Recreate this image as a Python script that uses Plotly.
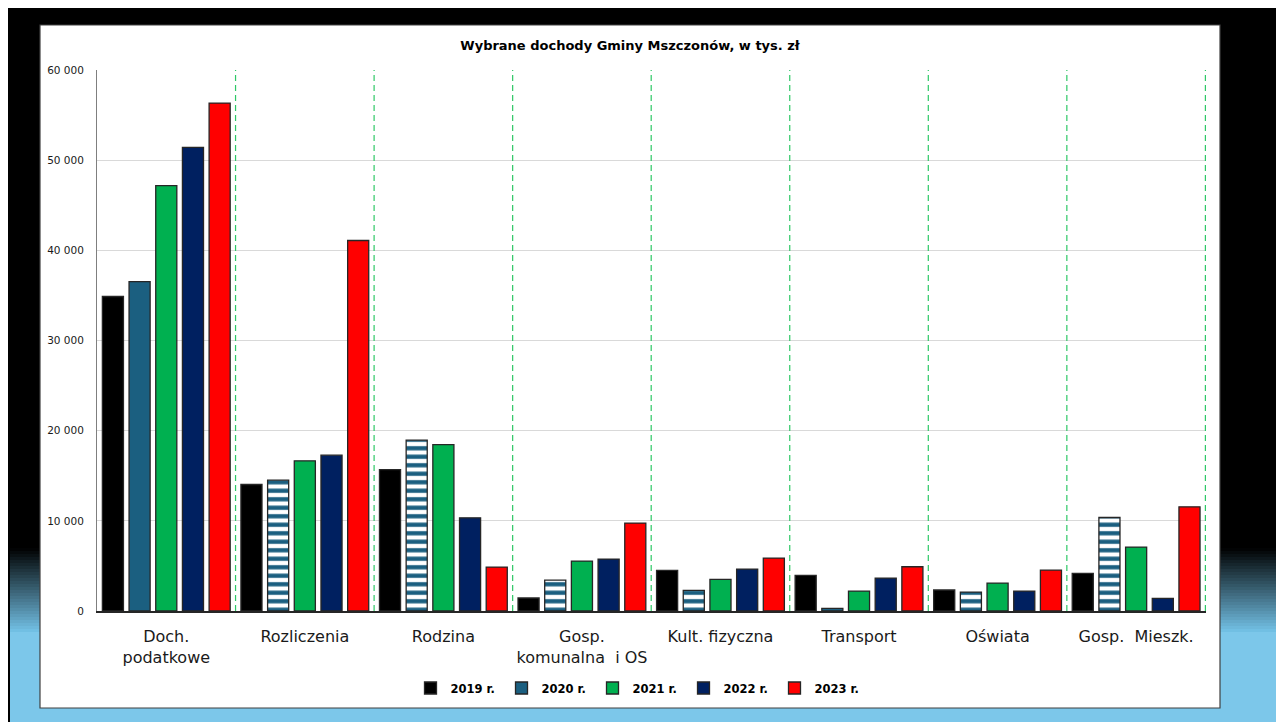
import plotly.graph_objects as go

categories = ["Doch.<br>podatkowe", "Rozliczenia", "Rodzina", "Gosp.<br>komunalna\u00a0\u00a0i OS",
              "Kult. fizyczna", "Transport", "Oświata", "Gosp.\u00a0\u00a0Mieszk."]
years = ["2019 r.", "2020 r.", "2021 r.", "2022 r.", "2023 r."]

v2019 = [34880, 14030, 15690, 1440, 4500, 3950, 2330, 4170]
v2020 = [36540, 14510, 18940, 3430, 2290, 300, 2100, 10370]
v2021 = [47180, 16650, 18460, 5540, 3510, 2210, 3100, 7090]
v2022 = [51420, 17280, 10330, 5760, 4650, 3650, 2210, 1400]
v2023 = [56330, 41090, 4870, 9750, 5870, 4910, 4540, 11550]

series = [v2019, v2020, v2021, v2022, v2023]
colors = ["#000000", "#1b5f80", "#00b050", "#002060", "#ff0000"]

# page body has an 8px margin; figure sized to fit the window
OX, OY = 8, 8
W, H = 1276, 714
def px_x(x):
    return (x - OX) / W
def px_y(y):
    return 1 - (y - OY) / H

fig = go.Figure()
for i, (name, vals, col) in enumerate(zip(years, series, colors)):
    marker = dict(color=col, line=dict(color="#262626", width=1.3))
    if i == 1:
        marker["pattern"] = dict(shape=[""] + ["-"] * (len(vals) - 1),
                                 fgcolor="#1b5f80", bgcolor="#ffffff",
                                 size=8.5, solidity=0.5, fillmode="replace")
    fig.add_trace(go.Bar(x=categories, y=vals, name=name, marker=marker))

shapes = []
# outer background: black with gradient to light blue at bottom
shapes.append(dict(type="rect", xref="paper", yref="paper", x0=0, x1=1, y0=0, y1=1,
                   fillcolor="#000000", line=dict(width=0), layer="below"))
top, bot = 548, 632
n = 28
c0 = (0, 0, 0)
c1 = (0x74, 0xc3, 0xe8)
for k in range(n):
    t = (k + 0.5) / n
    c = tuple(int(c0[j] + (c1[j] - c0[j]) * t) for j in range(3))
    ya = top + (bot - top) * k / n
    yb = top + (bot - top) * (k + 1) / n + 0.6
    shapes.append(dict(type="rect", xref="paper", yref="paper", x0=px_x(10), x1=px_x(1282),
                       y0=px_y(yb), y1=px_y(ya),
                       fillcolor="rgb(%d,%d,%d)" % c, line=dict(width=0), layer="below"))
shapes.append(dict(type="rect", xref="paper", yref="paper", x0=px_x(10), x1=px_x(1282),
                   y0=0, y1=px_y(bot),
                   fillcolor="#7cc7ea", line=dict(width=0), layer="below"))
# white chart box
shapes.append(dict(type="rect", xref="paper", yref="paper", x0=px_x(40), x1=px_x(1220),
                   y0=px_y(708), y1=px_y(25), fillcolor="#ffffff",
                   line=dict(color="#404040", width=1.2), layer="below"))
# green dashed dividers between categories
for k in range(len(categories)):
    shapes.append(dict(type="line", xref="x", yref="y", x0=k + 0.5, x1=k + 0.5, y0=0, y1=60000,
                       line=dict(color="#2ec866", width=1.2, dash="6px,4px")))
fig.update_layout(shapes=shapes)

fig.update_layout(
    width=W, height=H,
    margin=dict(l=0, r=0, t=0, b=0, autoexpand=False),
    paper_bgcolor="#ffffff",
    plot_bgcolor="rgba(0,0,0,0)",
    barmode="group", bargap=0.037, bargroupgap=0.21,
    separators=". ",
    font=dict(family="DejaVu Sans", color="#1a1a1a"),
    title=dict(text="<b>Wybrane dochody Gminy Mszczonów, w tys. zł</b>",
               x=px_x(630), xanchor="center", xref="paper",
               y=px_y(45), yanchor="middle", yref="paper",
               font=dict(size=13, color="#000000", family="DejaVu Sans")),
    xaxis=dict(domain=[px_x(97), px_x(1206)], showgrid=False, showline=True,
               linecolor="#262626", linewidth=1.5, ticks="", automargin=False,
               tickfont=dict(size=16, color="#1a1a1a", family="DejaVu Sans"),
               ticklabelstandoff=10),
    yaxis=dict(domain=[px_y(611), px_y(70)], range=[0, 60000], dtick=10000,
               tickformat=",d", showgrid=True, gridcolor="#d9d9d9", gridwidth=1,
               showline=True, linecolor="#7f7f7f", linewidth=1, ticks="",
               zeroline=False, automargin=False,
               tickfont=dict(size=10.5, color="#1a1a1a", family="DejaVu Sans"),
               ticklabelstandoff=10),
    legend=dict(orientation="h", x=px_x(638), xanchor="center", y=px_y(688), yanchor="middle",
                font=dict(size=11.5, color="#000000", family="DejaVu Sans", weight="bold"),
                bgcolor="rgba(0,0,0,0)", itemwidth=30, entrywidth=46, entrywidthmode="pixels",
                traceorder="normal"),
)

fig.write_html("out.html")
